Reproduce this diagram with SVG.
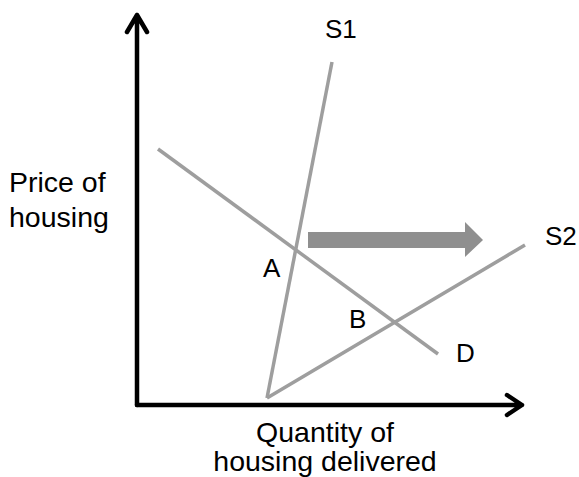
<svg xmlns="http://www.w3.org/2000/svg" width="579" height="477" viewBox="0 0 579 477">
<style>
.axis{stroke:#000;stroke-width:4.5;fill:none;stroke-linecap:round;stroke-linejoin:round}
.curve{stroke:#9e9e9e;stroke-width:3.5;fill:none}
.lbl{font-family:"Liberation Sans",Arial,sans-serif;font-size:28.5px;fill:#000}
.pt{font-family:"Liberation Sans",Arial,sans-serif;font-size:26px;fill:#000}
</style>
<rect width="579" height="477" fill="#fff"/>
<g id="axes">
<path class="axis" d="M137,405 V15 M127,32 L137,15 L147,32"/>
<path class="axis" d="M137,405 H522 M507,395 L522,405 L507,415"/>
</g>
<g id="connectors">
<line id="S1-line" class="curve" x1="267" y1="398" x2="332" y2="62"/>
<line id="S2-line" class="curve" x1="267" y1="398" x2="525" y2="245"/>
<line id="D-line" class="curve" x1="158" y1="149" x2="438" y2="354"/>
<polygon id="shift-arrow" fill="#8f8f8f" points="308,232 465,232 465,222 483,240 465,257 465,248 308,248"/>
</g>
<g id="labels">
<text class="lbl" x="9" y="192">Price of</text>
<text class="lbl" x="9" y="227">housing</text>
<text class="lbl" x="325" y="442" text-anchor="middle">Quantity of</text>
<text class="lbl" x="325" y="471" text-anchor="middle">housing delivered</text>
</g>
<g id="S1"><text class="pt" x="325" y="38">S1</text></g>
<g id="S2"><text class="pt" x="545" y="245">S2</text></g>
<g id="A"><text class="pt" x="263" y="277">A</text></g>
<g id="B"><text class="pt" x="349" y="328">B</text></g>
<g id="D"><text class="pt" x="456" y="362">D</text></g>
</svg>
